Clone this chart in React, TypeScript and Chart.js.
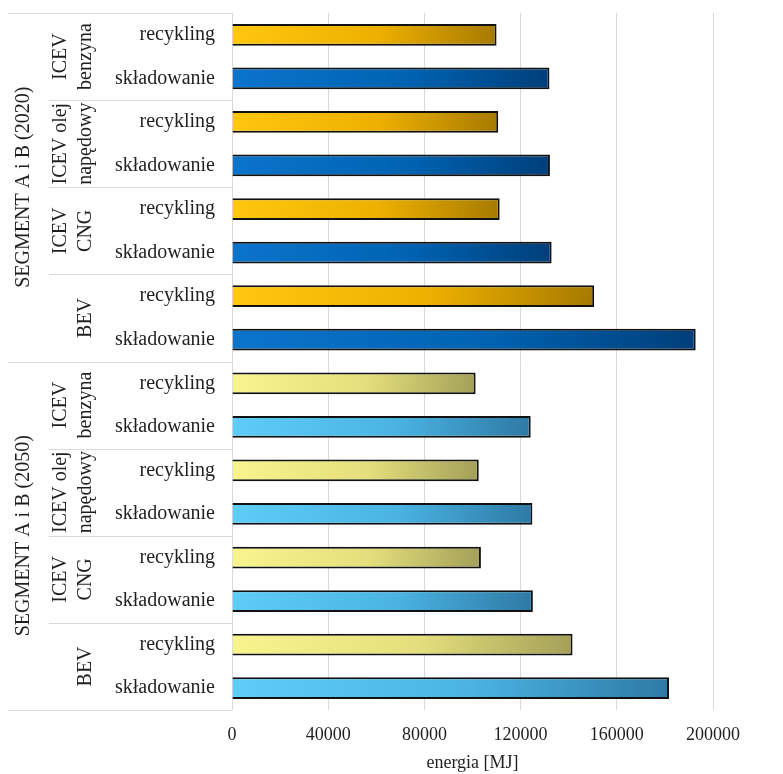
import React, { useEffect, useRef } from 'react';
import { Chart, registerables } from 'chart.js';

Chart.register(...registerables);

const segments = ['SEGMENT A i B (2020)', 'SEGMENT A i B (2050)'];
const vehicles = [
  ['ICEV', 'benzyna'],
  ['ICEV olej', 'napędowy'],
  ['ICEV', 'CNG'],
  ['', 'BEV'],
];
const endOfLife = ['recykling', 'składowanie'];
const recykling2020 = [110000, 110700, 111300, 150600];
const skladowanie2020 = [132000, 132200, 132900, 192800];
const recykling2050 = [101300, 102600, 103500, 141600];
const skladowanie2050 = [124200, 124900, 125100, 181700];
const xTicks = [0, 40000, 80000, 120000, 160000, 200000];
const xTitle = 'energia [MJ]';

const gradientStops = [
  ['#FFC70F', '#EDB000', '#A67A00'],
  ['#0B74CC', '#0063B2', '#003F7A'],
  ['#F8F48E', '#E4DF7C', '#A39F58'],
  ['#5FCDF8', '#4AB3E2', '#2E79A4'],
];

const FONT = "'Liberation Serif', 'Times New Roman', serif";

const seriesBySegment = [
  [recykling2020, skladowanie2020],
  [recykling2050, skladowanie2050],
];

const rowLabels: string[] = [];
const rowValues: number[] = [];
const rowKinds: number[] = [];
segments.forEach((_, si) =>
  vehicles.forEach((_, vi) =>
    endOfLife.forEach((lab, ei) => {
      rowLabels.push(lab);
      rowValues.push(seriesBySegment[si][ei][vi]);
      rowKinds.push(si * 2 + ei);
    })
  )
);

const groupLabelsPlugin = {
  id: 'groupLabels',
  afterDraw(chart: any) {
    const { ctx, chartArea } = chart;
    const y = chart.scales.y;
    const n = rowLabels.length;
    const rowsPerGroup = endOfLife.length;
    const rowsPerSeg = vehicles.length * rowsPerGroup;
    const boundary = (k: number) => y.getPixelForValue(k - 0.5);
    ctx.save();
    ctx.strokeStyle = '#d9d9d9';
    ctx.lineWidth = 1;
    for (let k = 0; k <= n; k += rowsPerGroup) {
      const yy = Math.round(boundary(k)) + 0.5;
      const x0 = k % rowsPerSeg === 0 ? 8 : 49;
      ctx.beginPath();
      ctx.moveTo(x0, yy);
      ctx.lineTo(chartArea.left, yy);
      ctx.stroke();
    }
    ctx.fillStyle = '#1f1f1f';
    ctx.font = `20px ${FONT}`;
    ctx.textAlign = 'center';
    ctx.textBaseline = 'middle';
    const drawRot = (text: string, x: number, yc: number) => {
      if (!text) return;
      ctx.save();
      ctx.translate(x, yc);
      ctx.rotate(-Math.PI / 2);
      ctx.fillText(text, 0, 0);
      ctx.restore();
    };
    const lineX = [61, 86];
    for (let g = 0; g < n / rowsPerGroup; g++) {
      const yc = (boundary(g * rowsPerGroup) + boundary((g + 1) * rowsPerGroup)) / 2;
      const lines = vehicles[g % vehicles.length];
      lines.forEach((t, li) => drawRot(t, lineX[li], yc));
    }
    segments.forEach((s, si) => {
      const yc = (boundary(si * rowsPerSeg) + boundary((si + 1) * rowsPerSeg)) / 2;
      drawRot(s, 24, yc);
    });
    ctx.restore();
  },
};

export default function App() {
  const ref = useRef<HTMLCanvasElement | null>(null);
  useEffect(() => {
    if (!ref.current) return;
    const chart = new Chart(ref.current, {
      type: 'bar',
      data: {
        labels: rowLabels,
        datasets: [
          {
            data: rowValues,
            backgroundColor: (c: any) => {
              const kind = rowKinds[c.dataIndex] ?? 0;
              const stops = gradientStops[kind];
              const chartRef = c.chart;
              const xs = chartRef.scales?.x;
              const ys = chartRef.scales?.y;
              if (!xs || !ys || !chartRef.chartArea) return stops[1];
              const x0 = xs.getPixelForValue(0);
              const x1 = xs.getPixelForValue(rowValues[c.dataIndex]);
              const yc = ys.getPixelForValue(c.dataIndex);
              const g = chartRef.ctx.createLinearGradient(x0, yc - 11, x1, yc + 11);
              g.addColorStop(0, stops[0]);
              g.addColorStop(0.55, stops[1]);
              g.addColorStop(1, stops[2]);
              return g;
            },
            borderColor: '#111111',
            borderWidth: 2,
            barPercentage: 0.5,
            categoryPercentage: 1,
          },
        ],
      },
      options: {
        indexAxis: 'y',
        responsive: false,
        animation: false,
        layout: { padding: { top: 13, right: 70, left: 0, bottom: 0 } },
        plugins: { legend: { display: false }, tooltip: { enabled: false } },
        scales: {
          x: {
            type: 'linear',
            min: 0,
            max: 200000,
            afterBuildTicks: (scale: any) => {
              scale.ticks = xTicks.map((v) => ({ value: v }));
            },
            afterFit: (scale: any) => {
              scale.height = 64;
            },
            grid: { color: '#d9d9d9', lineWidth: 1, drawTicks: false },
            border: { display: false },
            ticks: {
              padding: 14,
              color: '#1f1f1f',
              font: { family: FONT, size: 18 },
              callback: (v: any) => String(v),
            },
            title: {
              display: true,
              text: xTitle,
              color: '#1f1f1f',
              font: { family: FONT, size: 18 },
              padding: { top: 0, bottom: 0 },
            },
          },
          y: {
            type: 'category',
            afterFit: (scale: any) => {
              scale.width = 232;
              scale.paddingTop = 0;
              scale.paddingBottom = 0;
            },
            grid: { display: false, drawTicks: false },
            border: { display: false },
            ticks: {
              padding: 17,
              color: '#1f1f1f',
              font: { family: FONT, size: 20 },
              autoSkip: false,
            },
          },
        },
      },
      plugins: [groupLabelsPlugin],
    } as any);
    return () => chart.destroy();
  }, []);
  return (
    <div style={{ position: 'fixed', left: 0, top: 0, width: 783, height: 774, background: '#fff' }}>
      <canvas ref={ref} width={783} height={774} style={{ display: 'block' }} />
    </div>
  );
}
